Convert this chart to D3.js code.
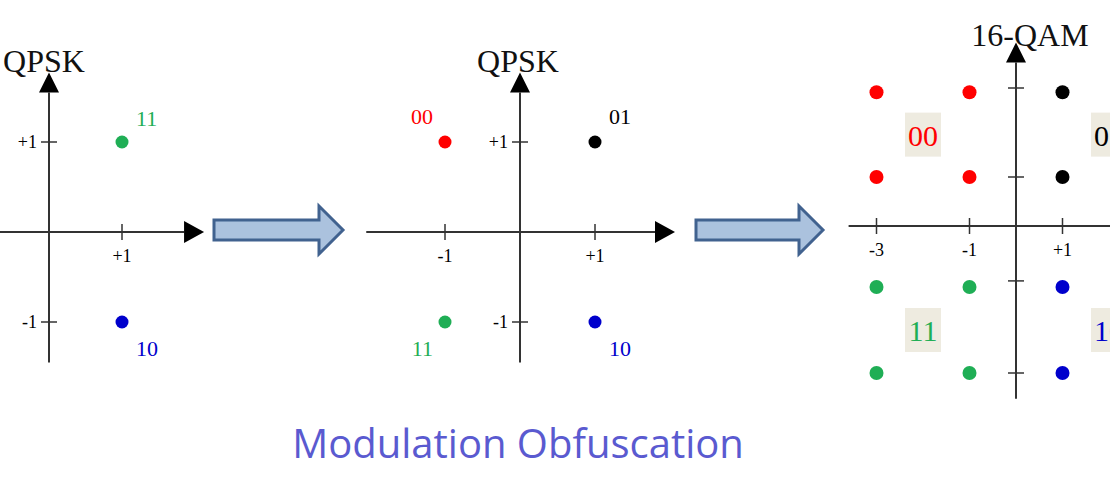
<!DOCTYPE html><html><head><script src="https://cdn.jsdelivr.net/npm/d3@7"></script>
<style>body{margin:0;background:#fff}</style></head><body><svg id="c" width="1110" height="500"></svg>
<script>
const panel1Points=[{i:1,q:1,label:"11",color:"#1fae55"},{i:1,q:-1,label:"10",color:"#0000cc"}];
const panel2Points=[{i:-1,q:1,label:"00",color:"#ff0000"},{i:1,q:1,label:"01",color:"#000"},{i:-1,q:-1,label:"11",color:"#1fae55"},{i:1,q:-1,label:"10",color:"#0000cc"}];
const qamI=[-3,-1,1,3], qamQ=[3,1,-1,-3];
const qamQuadrants=[{si:-1,sq:1,label:"00",color:"#ff0000"},{si:1,sq:1,label:"01",color:"#000"},{si:-1,sq:-1,label:"11",color:"#1fae55"},{si:1,sq:-1,label:"10",color:"#0000cc"}];
const svg=d3.select("#c");
const serif="'Liberation Serif','DejaVu Serif',serif";
const axC="#333";
function axes(x,y,x0,x1,y0,y1){
 svg.append("line").attr("x1",x(x0)).attr("x2",x(x1)).attr("y1",y(0)).attr("y2",y(0)).attr("stroke",axC).attr("stroke-width",2);
 svg.append("path").attr("d",`M${x(x1)},${y(0)-11}L${x(x1)+20},${y(0)}L${x(x1)},${y(0)+11}Z`).attr("fill","#000");
 svg.append("line").attr("x1",x(0)).attr("x2",x(0)).attr("y1",y(y0)).attr("y2",y(y1)).attr("stroke",axC).attr("stroke-width",2);
 svg.append("path").attr("d",`M${x(0)-10},${y(y1)}L${x(0)},${y(y1)-20}L${x(0)+10},${y(y1)}Z`).attr("fill","#000");
}
function xt(x,y,v,t){svg.append("line").attr("x1",x(v)).attr("x2",x(v)).attr("y1",y(0)-8).attr("y2",y(0)+8).attr("stroke",axC).attr("stroke-width",1.5);
 svg.append("text").attr("x",x(v)).attr("y",y(0)+30).attr("text-anchor","middle").attr("font-family",serif).attr("font-size",18).text(t);}
function yt(x,y,v,t){svg.append("line").attr("x1",x(0)-8).attr("x2",x(0)+8).attr("y1",y(v)).attr("y2",y(v)).attr("stroke",axC).attr("stroke-width",1.5);
 if(t)svg.append("text").attr("x",x(0)-12).attr("y",y(v)+6).attr("text-anchor","end").attr("font-family",serif).attr("font-size",18).text(t);}
function title(x,y,t){svg.append("text").attr("x",x).attr("y",y).attr("text-anchor","middle").attr("font-family",serif).attr("font-size",32).attr("fill","#111").text(t);}
// Panel 1
{const x=d3.scaleLinear().domain([0,1]).range([49,122]),y=d3.scaleLinear().domain([0,1]).range([232,142]);
 axes(x,y,-0.7,1.85,-1.45,1.55);xt(x,y,1,"+1");yt(x,y,1,"+1");yt(x,y,-1,"-1");title(44,72,"QPSK");
 svg.selectAll(null).data(panel1Points).join("circle").attr("cx",d=>x(d.i)).attr("cy",d=>y(d.q)).attr("r",6.5).attr("fill",d=>d.color);
 svg.selectAll(null).data(panel1Points).join("text").attr("x",d=>x(d.i)+14).attr("y",d=>y(d.q)+(d.q>0?-16:34)).attr("font-family",serif).attr("font-size",22).attr("fill",d=>d.color).text(d=>d.label);}
// Panel 2
{const x=d3.scaleLinear().domain([0,1]).range([520,595]),y=d3.scaleLinear().domain([0,1]).range([232,142]);
 axes(x,y,-2.05,1.8,-1.45,1.55);xt(x,y,-1,"-1");xt(x,y,1,"+1");yt(x,y,1,"+1");yt(x,y,-1,"-1");title(518,72,"QPSK");
 svg.selectAll(null).data(panel2Points).join("circle").attr("cx",d=>x(d.i)).attr("cy",d=>y(d.q)).attr("r",6.5).attr("fill",d=>d.color);
 svg.selectAll(null).data(panel2Points).join("text").attr("x",d=>x(d.i)+(d.i>0?14:-12)).attr("y",d=>y(d.q)+(d.q>0?-18:34)).attr("text-anchor",d=>d.i>0?"start":"end").attr("font-family",serif).attr("font-size",22).attr("fill",d=>d.color).text(d=>d.label);}
// Panel 3
{const x=d3.scaleLinear().domain([0,1]).range([1016,1062.5]),y=d3.scaleLinear().domain([3.1,1,0,-1,-3]).range([88,177,226,287,373]);
 axes(x,y,-3.6,2.5,-3.6,3.7);
 [-3,-1,1].forEach(v=>xt(x,y,v,v>0?"+"+v:""+v));[3.1,1,-0.9,-3].forEach(v=>yt(x,y,v,null));title(1030,46,"16-QAM");
 const pts=[];qamI.forEach(i=>qamQ.forEach(q=>{const qd=qamQuadrants.find(d=>d.si===Math.sign(i)&&d.sq===Math.sign(q));pts.push({i,q,color:qd.color});}));
 svg.selectAll(null).data(pts).join("circle").attr("cx",d=>x(d.i)).attr("cy",d=>y(d.q)).attr("r",7).attr("fill",d=>d.color);
 const g=svg.selectAll(null).data(qamQuadrants).join("g").attr("transform",d=>`translate(${x(d.si*2)},${y(d.sq*2)})`);
 g.append("rect").attr("x",-18).attr("y",-22).attr("width",36).attr("height",44).attr("fill","#eeebe0");
 g.append("text").attr("text-anchor","middle").attr("y",11).attr("font-family",serif).attr("font-size",30).attr("fill",d=>d.color).text(d=>d.label);}
// Block arrows
function blockArrow(x0,x1,cy){svg.append("path").attr("d",`M${x0},${cy-10}L${x1-24},${cy-10}L${x1-24},${cy-24}L${x1},${cy}L${x1-24},${cy+24}L${x1-24},${cy+10}L${x0},${cy+10}Z`)
 .attr("fill","#abc2de").attr("stroke","#41628f").attr("stroke-width",3).attr("stroke-linejoin","miter");}
blockArrow(214,343,230);blockArrow(696,823,230);
svg.append("text").attr("x",518).attr("y",458).attr("text-anchor","middle").attr("font-family","'Open Sans','Liberation Sans',sans-serif").attr("font-size",40).attr("fill","#5a5ad0").text("Modulation Obfuscation");
</script></body></html>
